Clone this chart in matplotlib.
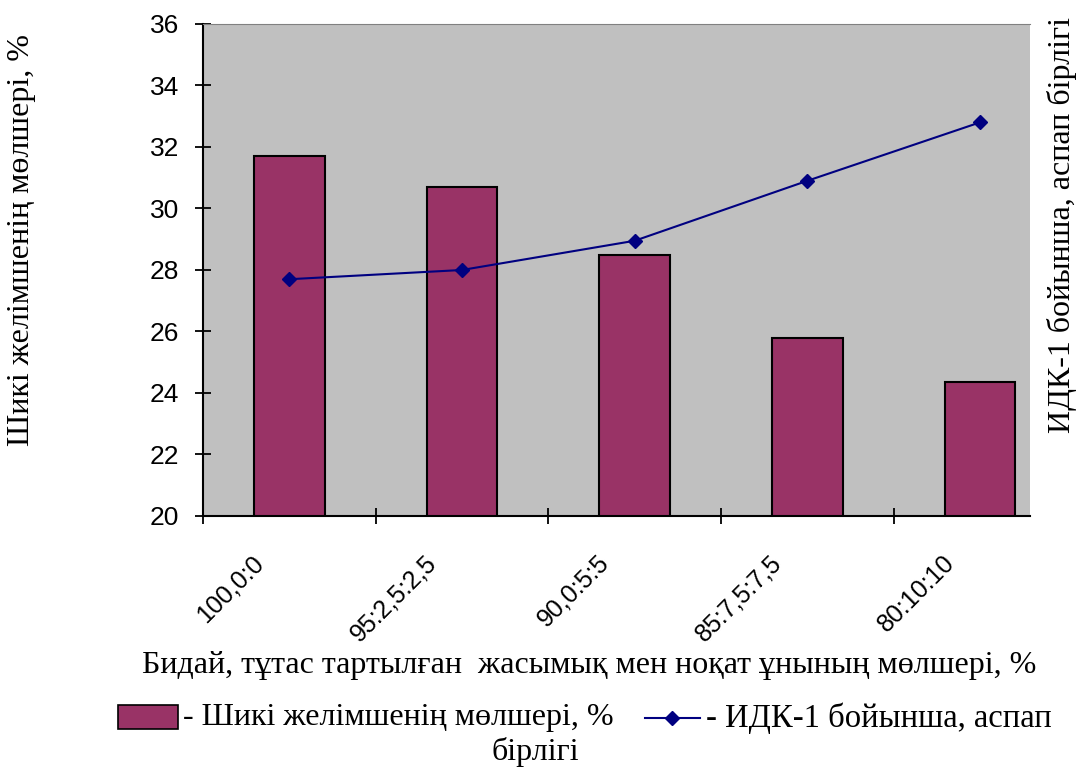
import numpy as np
import matplotlib.pyplot as plt
from matplotlib.patches import Rectangle
from matplotlib.lines import Line2D
from matplotlib.transforms import ScaledTranslation

categories = ["100,0:0", "95:2,5:2,5", "90,0:5:5", "85:7,5:7,5", "80:10:10"]
gluten = [31.7, 30.7, 28.5, 25.8, 24.35]      # Шикі желімшенің мөлшері, %
idk = [27.7, 28.0, 28.95, 30.9, 32.8]         # ИДК-1 бойынша, аспап бірлігі

bar_color = "#993366"
line_color = "#000080"
serif = "Liberation Serif"
sans = "Liberation Sans"

fig = plt.figure(figsize=(10.79, 7.69), dpi=100)
ax = fig.add_axes([0.1881, 0.329, 0.7665, 0.6398])
ax.set_facecolor("#c0c0c0")

x = np.arange(len(categories))
ax.bar(x, gluten, width=0.41, color=bar_color, edgecolor="black", linewidth=1.5, zorder=2)
ax.plot(x, idk, color=line_color, linewidth=1.5, marker="D", markersize=7, zorder=3)

ax.set_ylim(20, 36)
ax.set_xlim(-0.5, 4.29)
ax.set_yticks(np.arange(20, 37, 2))
ax.tick_params(axis="y", direction="inout", length=12, width=1.3, labelsize=19, pad=11)
for lab in ax.get_yticklabels():
    lab.set_fontfamily(sans)

# major ticks on category borders, labels on centres
ax.set_xticks(np.arange(-0.5, 4.0, 1.0))
ax.set_xticklabels([])
ax.tick_params(axis="x", which="major", direction="inout", length=12, width=1.3)
ax.set_xticks(x, minor=True)
ax.set_xticklabels(categories, minor=True, rotation=45, ha="right", va="top",
                   fontsize=18, fontfamily=sans)
ax.tick_params(axis="x", which="minor", length=0, pad=25)
offset = ScaledTranslation(-21 / 100, 0, fig.dpi_scale_trans)
for lab in ax.get_xticklabels(minor=True):
    lab.set_transform(lab.get_transform() + offset)

for side in ["left", "bottom"]:
    ax.spines[side].set_linewidth(1.5)
ax.spines["top"].set_color("#808080")
ax.spines["right"].set_visible(False)

fig.text(0.020, 0.688, "Шикі желімшенің мөлшері, %", rotation=90, ha="center", va="center",
         fontsize=23, fontfamily=serif)
fig.text(0.984, 0.707, "ИДК-1 бойынша, аспап бірлігі", rotation=90, ha="center", va="center",
         fontsize=23, fontfamily=serif)
fig.text(0.546, 0.135, "Бидай, тұтас тартылған  жасымық мен ноқат ұнының мөлшері, %",
         ha="center", va="center", fontsize=23, fontfamily=serif)

# legend
fig.patches.append(Rectangle((118 / 1079, 1 - 729 / 769), 60 / 1079, 24 / 769,
                             transform=fig.transFigure, facecolor=bar_color,
                             edgecolor="black", linewidth=1.2))
fig.text(183 / 1079, 1 - 718 / 769, "- Шикі желімшенің мөлшері, %", ha="left", va="center",
         fontsize=23, fontfamily=serif)
fig.lines.append(Line2D([645 / 1079, 700 / 1079], [1 - 718 / 769] * 2, transform=fig.transFigure,
                        color=line_color, linewidth=1.5))
fig.lines.append(Line2D([672 / 1079], [1 - 718 / 769], transform=fig.transFigure,
                        color=line_color, marker="D", markersize=7))
fig.text(706 / 1079, 1 - 718 / 769, "- ИДК-1 бойынша, аспап", ha="left", va="center",
         fontsize=23.5, fontfamily=serif)
fig.text(535 / 1079, 1 - 752 / 769, "бірлігі", ha="center", va="center",
         fontsize=23, fontfamily=serif)

fig.savefig("out.png", dpi=100)
